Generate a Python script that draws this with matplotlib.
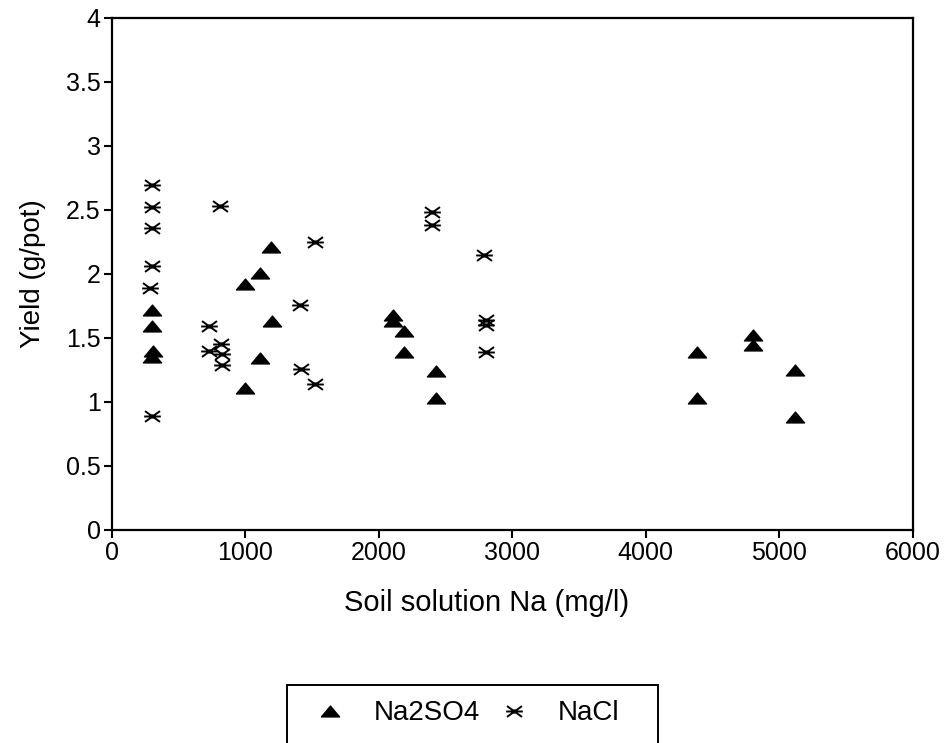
import matplotlib.pyplot as plt
from matplotlib.path import Path
from matplotlib.patches import Rectangle

plt.rcParams["font.family"] = ["Liberation Sans", "DejaVu Sans"]

# Na2SO4 treatment
na2so4_x = [300, 300, 310, 300, 1000, 1110, 1190, 1200, 1110, 1000,
            2110, 2110, 2190, 2190, 2430, 2430, 4380, 4380, 4800, 4800, 5120, 5120]
na2so4_y = [1.72, 1.59, 1.40, 1.35, 1.92, 2.01, 2.21, 1.63, 1.34, 1.11,
            1.68, 1.63, 1.55, 1.39, 1.24, 1.03, 1.39, 1.03, 1.52, 1.44, 1.25, 0.88]

# NaCl treatment
nacl_x = [300, 300, 300, 300, 290, 300, 810, 730, 820, 730, 830, 830,
          1410, 1420, 1520, 1520, 2400, 2400, 2790, 2800, 2800, 2800]
nacl_y = [2.69, 2.52, 2.36, 2.06, 1.89, 0.89, 2.53, 1.59, 1.45, 1.40, 1.37, 1.29,
          1.76, 1.26, 2.25, 1.14, 2.48, 2.38, 2.15, 1.64, 1.60, 1.39]

tri = Path([(0, 0.6), (-1, -0.6), (1, -0.6), (0, 0.6)],
           [Path.MOVETO, Path.LINETO, Path.LINETO, Path.CLOSEPOLY])
star = Path([(-1, 0), (1, 0), (-0.9, -0.65), (0.9, 0.65), (-0.9, 0.65), (0.9, -0.65),
             (0, -0.25), (0, 0.25)],
            [Path.MOVETO, Path.LINETO, Path.MOVETO, Path.LINETO, Path.MOVETO, Path.LINETO,
             Path.MOVETO, Path.LINETO])

fig = plt.figure(figsize=(9.46, 7.43), dpi=100)
ax = fig.add_axes([0.118, 0.287, 0.847, 0.689])

ax.plot(na2so4_x, na2so4_y, linestyle="none", marker=tri, markersize=13,
        color="black", label="Na2SO4")
ax.plot(nacl_x, nacl_y, linestyle="none", marker=star, markersize=12,
        color="black", markeredgewidth=1.4, label="NaCl")

ax.set_xlim(0, 6000)
ax.set_ylim(0, 4)
ax.set_xticks([0, 1000, 2000, 3000, 4000, 5000, 6000])
ax.set_yticks([0, 0.5, 1, 1.5, 2, 2.5, 3, 3.5, 4])
ax.set_yticklabels(["0", "0.5", "1", "1.5", "2", "2.5", "3", "3.5", "4"])
ax.tick_params(direction="out", length=6, width=1.5, labelsize=18, pad=2)
for s in ax.spines.values():
    s.set_linewidth(1.6)

ax.set_xlabel("Soil solution Na (mg/l)", fontsize=21)
ax.xaxis.set_label_coords(0.468, -0.115)
ax.set_ylabel("Yield (g/pot)", fontsize=20, labelpad=14)

leg = fig.legend(loc="center", bbox_to_anchor=(0.49, 0.040), ncol=2,
                 fontsize=20, frameon=False, borderaxespad=0,
                 handletextpad=0.8, columnspacing=0.4, handlelength=1.6)

# legend box, cut off by the bottom edge as in the original
fig.patches.append(Rectangle((287 / 946, -0.05), (658 - 287) / 946, 0.05 + 1 - 685 / 743,
                             transform=fig.transFigure, fill=False,
                             edgecolor="black", linewidth=1.4))

fig.savefig("out.png", dpi=100, facecolor="white")
